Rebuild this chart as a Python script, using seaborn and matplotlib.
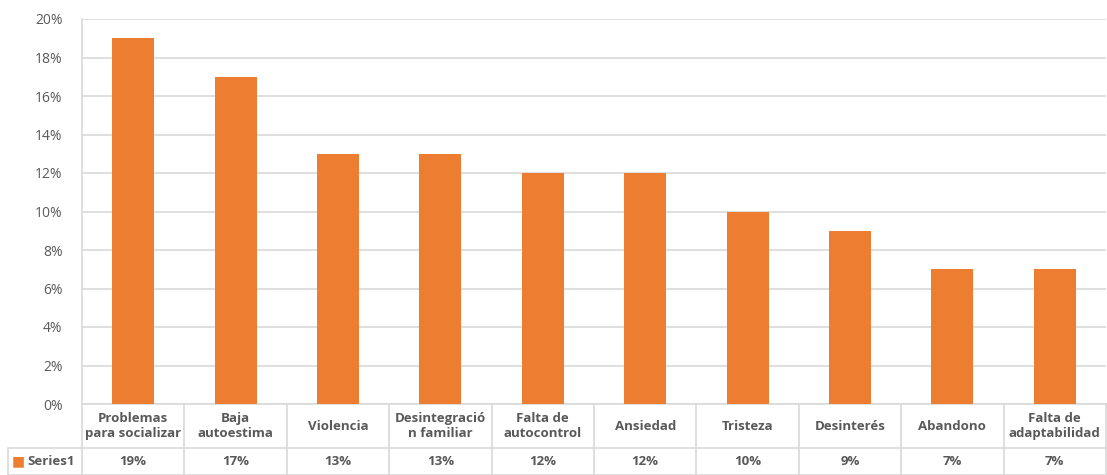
import matplotlib
matplotlib.use("Agg")
import matplotlib.pyplot as plt
import seaborn as sns
import pandas as pd

categories = ["Problemas\npara socializar", "Baja\nautoestima", "Violencia",
              "Desintegració\nn familiar", "Falta de\nautocontrol", "Ansiedad",
              "Tristeza", "Desinterés", "Abandono", "Falta de\nadaptabilidad"]
values = [0.19, 0.17, 0.13, 0.13, 0.12, 0.12, 0.10, 0.09, 0.07, 0.07]
value_labels = ["19%", "17%", "13%", "13%", "12%", "12%", "10%", "9%", "7%", "7%"]
series_name = "Series1"
yticks = [0, 0.02, 0.04, 0.06, 0.08, 0.10, 0.12, 0.14, 0.16, 0.18, 0.20]

sns.set_style("white")
plt.rcParams['font.family'] = ['Open Sans', 'DejaVu Sans']

bar_color = "#ED7D31"
txt = "#595959"
grid = "#D9D9D9"

df = pd.DataFrame({"cat": range(len(categories)), "val": values})

fig = plt.figure(figsize=(11.07, 4.75), dpi=100)
ax = fig.add_axes([82 / 1107, 1 - 404 / 475, 1 - 82 / 1107 - 1 / 1107, 385 / 475])

sns.barplot(data=df, x="cat", y="val", color=bar_color, width=0.41,
            saturation=1, linewidth=0, ax=ax, zorder=3)

ax.set_xlim(-0.5, len(categories) - 0.5)
ax.set_ylim(0, 0.20)
ax.set_yticks(yticks)
ax.set_yticklabels([f"{int(round(t * 100))}%" for t in yticks], color=txt, fontsize=10)
ax.tick_params(axis="y", length=0, pad=14)
ax.set_xticks([])
ax.set_xlabel("")
ax.set_ylabel("")
ax.yaxis.grid(True, color=grid, linewidth=1.2, zorder=0)
for s in ["top", "right", "bottom"]:
    ax.spines[s].set_visible(False)
ax.spines["left"].set_color(grid)
ax.spines["left"].set_linewidth(1.2)

# data table below the plot
tr = ax.get_xaxis_transform()
y_top = 0
y_mid = -44 / 385
y_bot = -71 / 385
x_left_cell = -0.5 - 74 / 102.5
line_kw = dict(color=grid, linewidth=1.2, transform=tr, clip_on=False)
ax.plot([-0.5, len(categories) - 0.5], [y_top, y_top], **line_kw)
ax.plot([x_left_cell, len(categories) - 0.5], [y_mid, y_mid], **line_kw)
ax.plot([x_left_cell, len(categories) - 0.5], [y_bot, y_bot], **line_kw)
ax.plot([x_left_cell, x_left_cell], [y_mid, y_bot], **line_kw)
for i in range(len(categories) + 1):
    ax.plot([i - 0.5, i - 0.5], [y_top, y_bot], **line_kw)

for i, (c, v) in enumerate(zip(categories, value_labels)):
    ax.text(i, (y_top + y_mid) / 2, c, transform=tr, ha="center", va="center",
            fontsize=9.5, fontweight="bold", color=txt, linespacing=1.2)
    ax.text(i, (y_mid + y_bot) / 2, v, transform=tr, ha="center", va="center",
            fontsize=9.5, fontweight="bold", color=txt)

ax.text(x_left_cell + 0.1, (y_mid + y_bot) / 2, "\u25A0", transform=tr, ha="center",
        va="center", fontsize=10, color=bar_color)
ax.text(x_left_cell + 0.19, (y_mid + y_bot) / 2, series_name, transform=tr, ha="left",
        va="center", fontsize=9.5, fontweight="bold", color=txt)

fig.savefig("out.png", dpi=100)
